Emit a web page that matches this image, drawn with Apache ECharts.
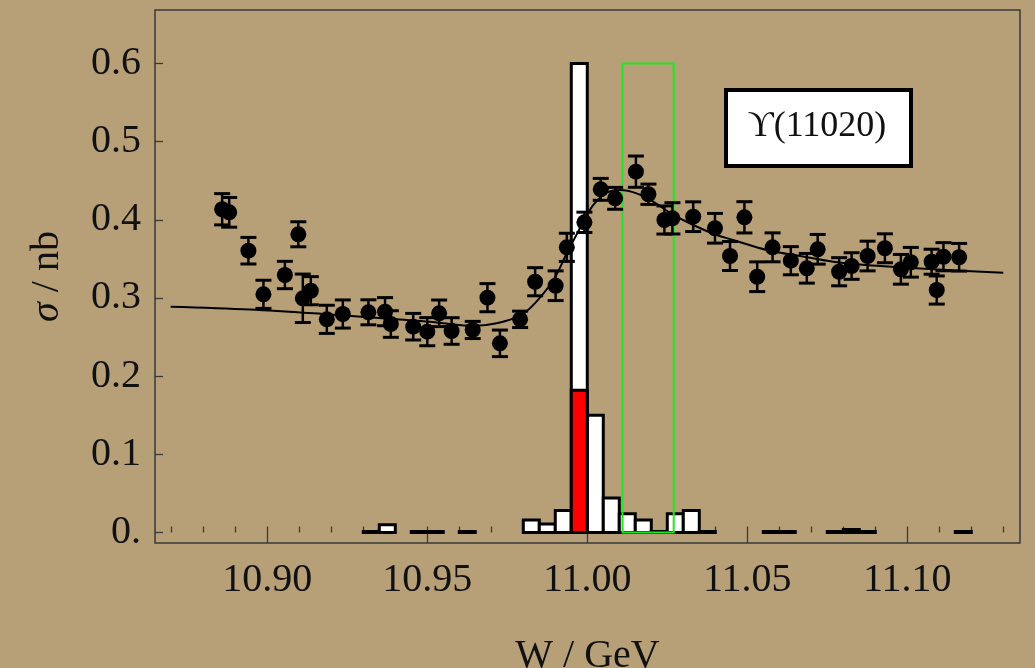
<!DOCTYPE html>
<html><head><meta charset="utf-8">
<script src="https://cdn.jsdelivr.net/npm/echarts@6/dist/echarts.min.js"></script>
<style>html,body{margin:0;padding:0;background:#b7a078;}#c{width:1035px;height:668px;}</style>
</head><body><div id="c"></div>
<script>
// ---- data ----
const pointW = [10.8859,10.8881,10.8941,10.8988,10.9055,10.9097,10.9111,10.9136,10.9186,10.9236,
  10.9316,10.9368,10.9386,10.9456,10.9500,10.9537,10.9576,10.9642,10.9688,10.9727,
  10.9790,10.9837,10.9901,10.9936,10.9991,11.0042,11.0087,11.0152,11.0191,11.0241,
  11.0266,11.0331,11.0399,11.0446,11.0491,11.0531,11.0579,11.0636,11.0686,11.0720,
  11.0787,11.0826,11.0876,11.0930,11.0980,11.1011,11.1076,11.1092,11.1113,11.1162];
const pointSigma = [0.4135,0.4096,0.3605,0.3047,0.3294,0.3815,0.2996,0.3093,0.2727,0.2795,
  0.2817,0.2825,0.2667,0.2633,0.2569,0.2804,0.2578,0.2591,0.3004,0.2420,
  0.2727,0.3208,0.3157,0.3648,0.3968,0.4390,0.4275,0.4616,0.4327,0.3998,
  0.4019,0.4040,0.3892,0.3537,0.4032,0.3272,0.3648,0.3477,0.3380,0.3623,
  0.3336,0.3409,0.3537,0.3636,0.3367,0.3457,0.3464,0.3102,0.3528,0.3521];
const pointErr = [0.020,0.019,0.017,0.018,0.0175,0.016,0.031,0.018,0.018,0.018,
  0.016,0.018,0.017,0.017,0.018,0.017,0.017,0.011,0.018,0.017,
  0.0105,0.018,0.019,0.018,0.013,0.014,0.014,0.020,0.013,0.018,
  0.020,0.019,0.019,0.0185,0.020,0.019,0.0185,0.018,0.019,0.019,
  0.018,0.017,0.019,0.0185,0.019,0.019,0.016,0.018,0.018,0.0177];
const fitW = [10.8698,10.8946,10.9196,10.9415,10.9508,10.9642,10.9717,10.9790,10.9836,10.9894,
  10.9936,10.9988,11.0019,11.0061,11.0102,11.0154,11.0206,11.0269,11.0331,11.0404,
  11.0456,11.0561,11.0665,11.0769,11.0873,11.0977,11.1081,11.1300];
const fitSigma = [0.2889,0.2853,0.2789,0.2725,0.2697,0.2642,0.2676,0.2773,0.2932,0.3230,
  0.3572,0.3976,0.4190,0.4347,0.4381,0.4339,0.4232,0.4062,0.3934,0.3806,
  0.3742,0.3614,0.3537,0.3464,0.3422,0.3393,0.3367,0.3324];
const binLow  = [10.930,10.935,10.945,10.950,10.960,10.980,10.985,10.990,10.995,11.000,
  11.005,11.010,11.015,11.020,11.025,11.030,11.035,11.055,11.060,11.075,11.080,11.085,11.115];
const binHigh = [10.935,10.940,10.950,10.955,10.965,10.985,10.990,10.995,11.000,11.005,
  11.010,11.015,11.020,11.025,11.030,11.035,11.040,11.060,11.065,11.080,11.085,11.090,11.120];
const binHeight = [0,0.010,0,0,0,0.016,0.011,0.028,0.600,0.150,
  0.044,0.024,0.016,0,0.024,0.028,0,0,0,0,0.004,0,0];
const redBinLow = [10.995];
const redBinHigh = [11.000];
const redBinHeight = [0.182];
const windowLow = [11.011];
const windowHigh = [11.027];
const windowHeight = [0.6];
const xMajorTicks = [10.90,10.95,11.00,11.05,11.10];
const xMinorTicks = [10.87,10.88,10.89,10.90,10.91,10.92,10.93,10.94,10.95,10.96,10.97,10.98,10.99,
  11.00,11.01,11.02,11.03,11.04,11.05,11.06,11.07,11.08,11.09,11.10,11.11,11.12,11.13];
const yTicks = [0,0.1,0.2,0.3,0.4,0.5,0.6];
const legendText = 'ϒ(11020)';
const xName = 'W / GeV';
const yName = '{i|σ} / nb';

// ---- chart ----
const X_MIN = 10.86491, X_MAX = 11.13522, Y_MIN = -0.01343, Y_MAX = 0.66842;
const serif = '"Liberation Serif","DejaVu Serif",serif';
const chart = echarts.init(document.getElementById('c'));

function boxItem(fill, strokeColor, lw, minPx) {
  return function (params, api) {
    const p0 = api.coord([api.value(0), api.value(2)]);
    const p1 = api.coord([api.value(1), 0]);
    let h = p1[1] - p0[1];
    let y = p0[1];
    if (h < minPx) { h = minPx; y = p1[1] - minPx; }
    return {type: 'rect', shape: {x: p0[0], y: y, width: p1[0] - p0[0], height: h},
      style: {fill: fill, stroke: strokeColor, lineWidth: lw}};
  };
}

chart.setOption({
  backgroundColor: '#b7a078',
  animation: false,
  grid: {left: 155, right: 15, top: 10, bottom: 125, show: true, borderColor: '#3a3a3a', borderWidth: 1.5,
    backgroundColor: 'transparent', outerBoundsMode: 'none', containLabel: false},
  xAxis: [
    {type: 'value', min: X_MIN, max: X_MAX, axisLine: {show: false}, splitLine: {show: false},
     axisTick: {show: true, inside: true, length: 6, customValues: xMinorTicks, lineStyle: {color: '#3a3a3a', width: 1.3}},
     axisLabel: {show: false}},
    {type: 'value', min: X_MIN, max: X_MAX, position: 'bottom', axisLine: {show: false}, splitLine: {show: false},
     axisTick: {show: true, inside: true, length: 11, customValues: xMajorTicks, lineStyle: {color: '#3a3a3a', width: 1.3}},
     axisLabel: {show: true, customValues: xMajorTicks, formatter: v => v.toFixed(2), fontFamily: serif, fontSize: 40, color: '#111', margin: 17},
     name: xName, nameLocation: 'middle', nameGap: 93, nameTextStyle: {fontFamily: serif, fontSize: 40, color: '#111'}}
  ],
  yAxis: {type: 'value', min: Y_MIN, max: Y_MAX, axisLine: {show: false}, splitLine: {show: false},
    axisTick: {show: true, inside: true, length: 8, customValues: yTicks, lineStyle: {color: '#3a3a3a', width: 1.3}},
    axisLabel: {show: true, customValues: yTicks, formatter: v => (Math.abs(v) < 1e-9 ? '0.' : v.toFixed(1)), fontFamily: serif, fontSize: 40, color: '#111', margin: 14},
    name: yName, nameLocation: 'middle', nameGap: 88,
    nameTextStyle: {fontFamily: serif, fontSize: 40, color: '#111', rich: {i: {fontFamily: serif, fontStyle: 'italic', fontSize: 40, color: '#111'}}}},
  graphic: [
    {type: 'rect', left: 724, top: 88, shape: {width: 185, height: 76}, style: {fill: '#fff', stroke: '#000', lineWidth: 4}, z: 100},
    {type: 'text', x: 817, y: 127, style: {text: legendText, font: '36px ' + serif, fill: '#111', textAlign: 'center', textVerticalAlign: 'middle'}, z: 101}
  ],
  series: [
    {type: 'custom', name: 'hist', xAxisIndex: 0, data: binLow.map((s, i) => [s, binHigh[i], binHeight[i]]),
     renderItem: boxItem('#ffffff', '#000', 3, 1), z: 2, silent: true},
    {type: 'custom', name: 'histRed', xAxisIndex: 0, data: redBinLow.map((s, i) => [s, redBinHigh[i], redBinHeight[i]]),
     renderItem: boxItem('#ff0000', '#000', 3, 1), z: 3, silent: true},
    {type: 'custom', name: 'window', xAxisIndex: 0, data: windowLow.map((s, i) => [s, windowHigh[i], windowHeight[i]]),
     renderItem: boxItem('transparent', '#1ee81e', 2, 0), z: 4, silent: true},
    {type: 'line', name: 'fit', xAxisIndex: 0, data: fitW.map((w, i) => [w, fitSigma[i]]), smooth: 0.35, showSymbol: false,
     lineStyle: {color: '#000', width: 2}, z: 5, silent: true},
    {type: 'custom', name: 'err', xAxisIndex: 0, data: pointW.map((w, i) => [w, pointSigma[i], pointErr[i]]), z: 6, silent: true,
     renderItem: function (params, api) {
       const x = api.value(0), y = api.value(1), e = api.value(2);
       const t = api.coord([x, y + e]), b = api.coord([x, y - e]);
       const hw = 8;
       return {type: 'group', children: [
         {type: 'line', shape: {x1: t[0], y1: t[1], x2: b[0], y2: b[1]}, style: {stroke: '#000', lineWidth: 2.5}},
         {type: 'line', shape: {x1: t[0] - hw, y1: t[1], x2: t[0] + hw, y2: t[1]}, style: {stroke: '#000', lineWidth: 3}},
         {type: 'line', shape: {x1: b[0] - hw, y1: b[1], x2: b[0] + hw, y2: b[1]}, style: {stroke: '#000', lineWidth: 3}}
       ]};
     }},
    {type: 'scatter', name: 'data', xAxisIndex: 0, data: pointW.map((w, i) => [w, pointSigma[i]]), symbol: 'circle', symbolSize: 16,
     itemStyle: {color: '#000', opacity: 1}, z: 7, silent: true}
  ]
});
</script>
</body></html>
